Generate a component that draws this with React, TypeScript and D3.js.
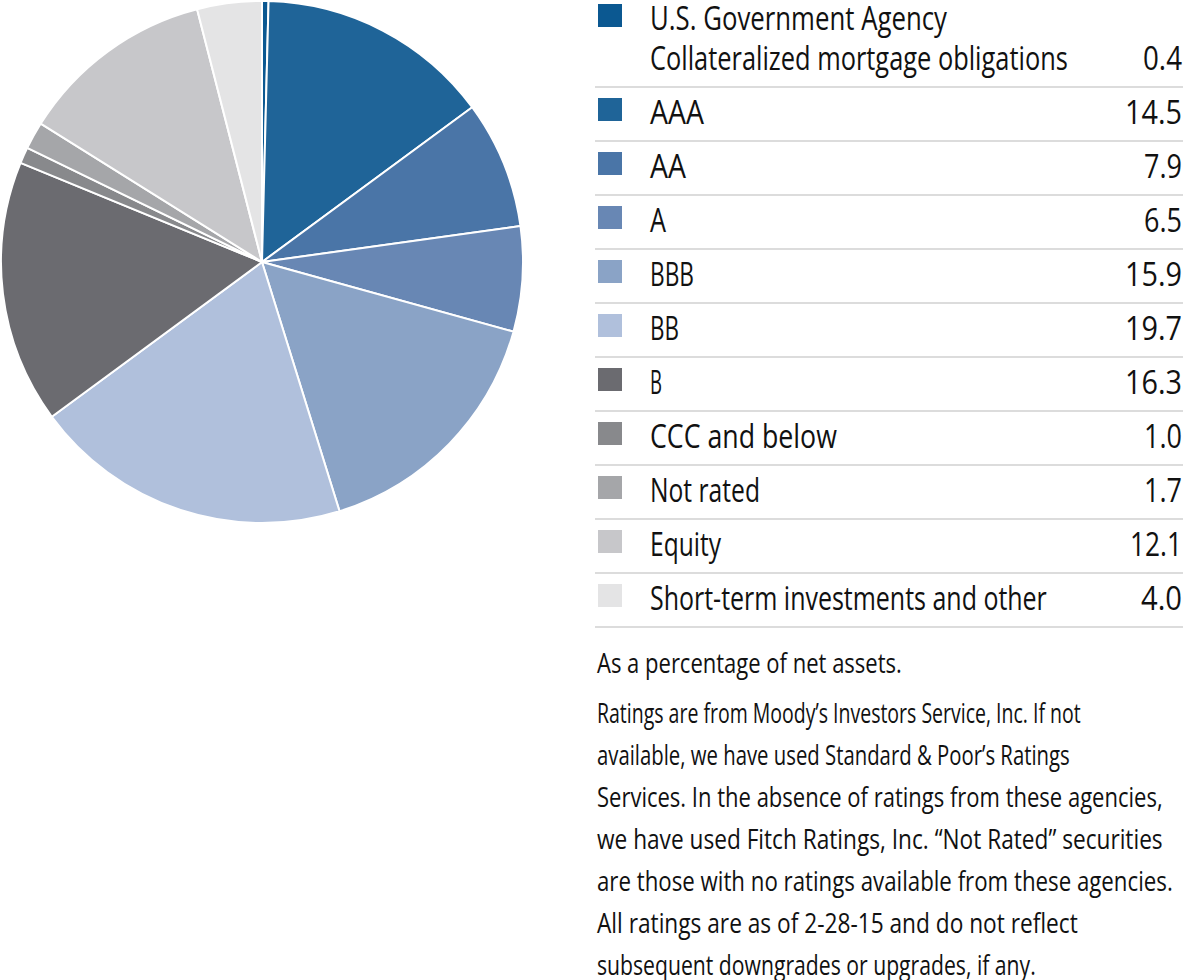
import React, { useLayoutEffect, useRef } from "react";
import * as d3 from "d3";

const categories = [
  "U.S. Government Agency Collateralized mortgage obligations",
  "AAA",
  "AA",
  "A",
  "BBB",
  "BB",
  "B",
  "CCC and below",
  "Not rated",
  "Equity",
  "Short-term investments and other",
];
const values = [0.4, 14.5, 7.9, 6.5, 15.9, 19.7, 16.3, 1.0, 1.7, 12.1, 4.0];
const valueLabels = ["0.4", "14.5", "7.9", "6.5", "15.9", "19.7", "16.3", "1.0", "1.7", "12.1", "4.0"];
const colors = [
  "#0b5891",
  "#1f6498",
  "#4a75a7",
  "#6887b4",
  "#8aa3c6",
  "#b0c0dc",
  "#6b6b70",
  "#88898c",
  "#a5a6a9",
  "#c7c7ca",
  "#e4e4e5",
];
// legend label lines (first entry wraps onto two lines)
const labelLines = [
  ["U.S. Government Agency", "Collateralized mortgage obligations"],
  ["AAA"],
  ["AA"],
  ["A"],
  ["BBB"],
  ["BB"],
  ["B"],
  ["CCC and below"],
  ["Not rated"],
  ["Equity"],
  ["Short-term investments and other"],
];
const labelWidths = [[297, 418], [54], [36], [16], [44], [29], [12], [187], [110], [71], [397]];
const valueWidths = [39, 57, 38, 38, 57, 57, 57, 38, 38, 52, 41];

const notes = [
  ["As a percentage of net assets."],
  [
    "Ratings are from Moody\u2019s Investors Service, Inc. If not",
    "available, we have used Standard & Poor\u2019s Ratings",
    "Services. In the absence of ratings from these agencies,",
    "we have used Fitch Ratings, Inc. \u201cNot Rated\u201d securities",
    "are those with no ratings available from these agencies.",
    "All ratings are as of 2-28-15 and do not reflect",
    "subsequent downgrades or upgrades, if any.",
  ],
];
const noteWidths = [[305], [484, 473, 566, 566, 576, 481, 439]];

const FONT = "'Open Sans', sans-serif";

function FitText(props: {
  x: number;
  y: number;
  width: number;
  size: number;
  anchor?: "start" | "end";
  children: string;
}) {
  const ref = useRef<SVGTextElement>(null);
  const { x, y, width, size, anchor = "start", children } = props;
  useLayoutEffect(() => {
    const el = ref.current;
    if (!el) return;
    el.setAttribute("transform", "");
    const natural = el.getComputedTextLength();
    const k = natural > 0 ? width / natural : 1;
    el.setAttribute("transform", `translate(${x},${y}) scale(${k},1)`);
  }, [x, y, width, size, children]);
  return (
    <text
      ref={ref}
      x={0}
      y={0}
      transform={`translate(${x},${y})`}
      fontSize={size}
      fontFamily={FONT}
      fill="#111"
      textAnchor={anchor}
    >
      {children}
    </text>
  );
}

export default function App() {
  const cx = 262;
  const cy = 262;
  const r = 261;
  const pie = d3
    .pie<number>()
    .sort(null)
    .value((d) => d)
    .startAngle(0)
    .endAngle(2 * Math.PI);
  const arcs = pie(values);
  const arcGen = d3.arc<d3.PieArcDatum<number>>().innerRadius(0).outerRadius(r);

  const legendX = 598;
  const textX = 650;
  const valueX = 1182;
  const rowTops = [0, 87, 141, 195, 249, 303, 357, 411, 465, 519, 573];
  const sepYs = [87, 141, 195, 249, 303, 357, 411, 465, 519, 573, 627];

  let noteY = 673;
  const noteEls: React.ReactNode[] = [];
  notes.forEach((para, pi) => {
    para.forEach((line, li) => {
      noteEls.push(
        <FitText key={`n${pi}-${li}`} x={597} y={noteY} size={28} width={noteWidths[pi][li]}>
          {line}
        </FitText>
      );
      noteY += 42;
    });
    noteY += 8;
  });

  return (
    <svg
      width={1183}
      height={980}
      style={{ position: "absolute", left: 0, top: 0, background: "#fff" }}
    >
      <g transform={`translate(${cx},${cy})`}>
        {arcs.map((a, i) => (
          <path key={i} d={arcGen(a) || ""} fill={colors[i]} stroke="#fff" strokeWidth={2} strokeLinejoin="round" />
        ))}
      </g>
      {sepYs.map((y, i) => (
        <line key={`s${i}`} x1={595} x2={1183} y1={y} y2={y} stroke="#dcdcdc" strokeWidth={2} />
      ))}
      {categories.map((c, i) => {
        const top = rowTops[i];
        const lines = labelLines[i];
        const firstBase = top + 30 + (i === 0 ? 0 : 7);
        const lastBase = firstBase + (lines.length - 1) * 40;
        return (
          <g key={c}>
            <rect x={legendX} y={firstBase - 26} width={24} height={23} fill={colors[i]} />
            {lines.map((ln, li) => (
              <FitText key={li} x={textX} y={firstBase + li * 40} size={33} width={labelWidths[i][li]}>
                {ln}
              </FitText>
            ))}
            <FitText x={valueX} y={lastBase} size={33} width={valueWidths[i]} anchor="end">
              {valueLabels[i]}
            </FitText>
          </g>
        );
      })}
      {noteEls}
    </svg>
  );
}
